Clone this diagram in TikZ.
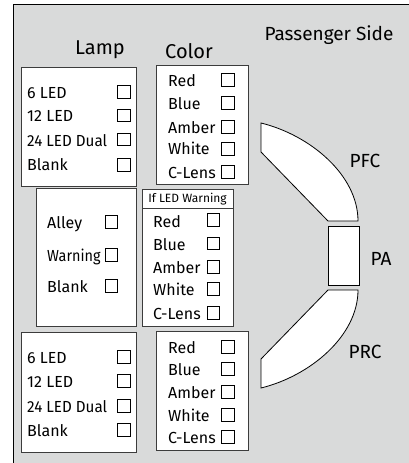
\documentclass[tikz,border=0pt]{standalone}
\usepackage{fontspec}
\setmainfont{Fira Sans}
\definecolor{bg}{RGB}{217,218,218}
\definecolor{edge}{RGB}{60,60,60}
\begin{document}
\begin{tikzpicture}[x=1pt,y=-1pt,
 panel/.style={draw=edge, fill=white, line width=0.9pt, anchor=north west, inner sep=0},
 lbl/.style={anchor=base west, inner sep=0, font=\fontsize{16}{16}\selectfont},
 chk/.style={draw=black, fill=white, minimum size=12.5pt, inner sep=0, line width=0.7pt},
 head/.style={inner sep=0, font=\fontsize{20}{20}\selectfont},
 seg/.style={draw=black, fill=white, line width=0.8pt},
 side/.style={inner sep=0, font=\fontsize{19}{19}\selectfont}]
\useasboundingbox (0,0) rectangle (409,463);
\fill[bg] (13,4) rectangle (409,463);
\draw[line width=0.9pt] (13,463) -- (13,4) -- (409,4);

% headings
\node[head] (hlamp) at (100,50) {Lamp};
\node[head] (hcolor) at (189,51) {Color};
\node[side] (hside) at (329,35) {Passenger Side};

% panels
\node[panel, minimum width=115pt, minimum height=119pt] (lamp1) at (21,67) {};
\node[panel, minimum width=92pt, minimum height=119pt] (color1) at (156,65) {};
\node[panel, minimum width=100pt, minimum height=138pt] (mid) at (36,188) {};
\node[panel, minimum width=91pt, minimum height=137pt] (warn) at (142,189) {};
\draw[edge, line width=0.9pt] (warn.north west) ++(0,19) coordinate (wl) -- (wl -| warn.east);
\node[panel, minimum width=115pt, minimum height=120pt] (lamp2) at (21,332) {};
\node[panel, minimum width=92pt, minimum height=119pt] (color2) at (156,331) {};

% lamp 1
\node[lbl] (a1) at (27,98) {6 LED};
\node[lbl] (a2) at (27,121) {12 LED};
\node[lbl] (a3) at (27,146) {\scalebox{0.95}[1]{24 LED Dual}};
\node[lbl] (a4) at (27,170) {Blank};
\node[chk] (ca1) at (124,92) {};
\node[chk] (ca2) at (124,115.5) {};
\node[chk] (ca3) at (124,139.5) {};
\node[chk] (ca4) at (124,165) {};

% color 1
\node[lbl] (b1) at (168,86) {Red};
\node[lbl] (b2) at (168,109) {Blue};
\node[lbl] (b3) at (168,133) {Amber};
\node[lbl] (b4) at (168,154) {White};
\node[lbl] (b5) at (168,178) {C-Lens};
\node[chk] (cb1) at (228,80) {};
\node[chk] (cb2) at (228,103) {};
\node[chk] (cb3) at (228,127) {};
\node[chk] (cb4) at (228,149) {};
\node[chk] (cb5) at (228,172) {};

% middle
\node[lbl] (m1) at (47,228) {Alley};
\node[lbl] (m2) at (47,261) {\scalebox{0.9}[1]{Warning}};
\node[lbl] (m3) at (47,292) {Blank};
\node[chk] (cm1) at (111.5,222) {};
\node[chk] (cm2) at (111.5,255) {};
\node[chk] (cm3) at (111.5,286) {};

% if LED warning
\node[inner sep=0, font=\fontsize{12}{12}\selectfont] (wh) at (187.5,199) {If LED Warning};
\node[lbl] (w1) at (153,227) {Red};
\node[lbl] (w2) at (153,250) {Blue};
\node[lbl] (w3) at (153,273) {Amber};
\node[lbl] (w4) at (153,295) {White};
\node[lbl] (w5) at (153,319) {C-Lens};
\node[chk] (cw1) at (213.5,220) {};
\node[chk] (cw2) at (213.5,243.5) {};
\node[chk] (cw3) at (213.5,267) {};
\node[chk] (cw4) at (213.5,289) {};
\node[chk] (cw5) at (213.5,313) {};

% lamp 2
\node[lbl] (d1) at (27,363) {6 LED};
\node[lbl] (d2) at (27,387) {12 LED};
\node[lbl] (d3) at (27,412) {\scalebox{0.95}[1]{24 LED Dual}};
\node[lbl] (d4) at (27,436) {Blank};
\node[chk] (cd1) at (124,357) {};
\node[chk] (cd2) at (124,381) {};
\node[chk] (cd3) at (124,406) {};
\node[chk] (cd4) at (124,430) {};

% color 2
\node[lbl] (e1) at (168,353) {Red};
\node[lbl] (e2) at (168,375) {Blue};
\node[lbl] (e3) at (168,398) {Amber};
\node[lbl] (e4) at (168,421) {White};
\node[lbl] (e5) at (168,443) {C-Lens};
\node[chk] (ce1) at (228,347) {};
\node[chk] (ce2) at (228,369) {};
\node[chk] (ce3) at (228,392) {};
\node[chk] (ce4) at (228,415) {};
\node[chk] (ce5) at (228,437) {};

% right side shapes
\draw[seg] (261,123) -- (261,152) -- (328,221) -- (358,221)
  .. controls (358,175) and (310,135) .. (261,123) -- cycle;
\node[seg, minimum width=31pt, minimum height=59pt, anchor=north west, inner sep=0] (pa) at (328,226) {};
\draw[seg] (261,388) -- (261,359) -- (328,290) -- (358,290)
  .. controls (358,336) and (310,376) .. (261,388) -- cycle;
\node[side] (lpfc) at (365,161) {PFC};
\node[side] (lpa) at (381,259) {PA};
\node[side] (lprc) at (365,352) {PRC};
\end{tikzpicture}
\end{document}
